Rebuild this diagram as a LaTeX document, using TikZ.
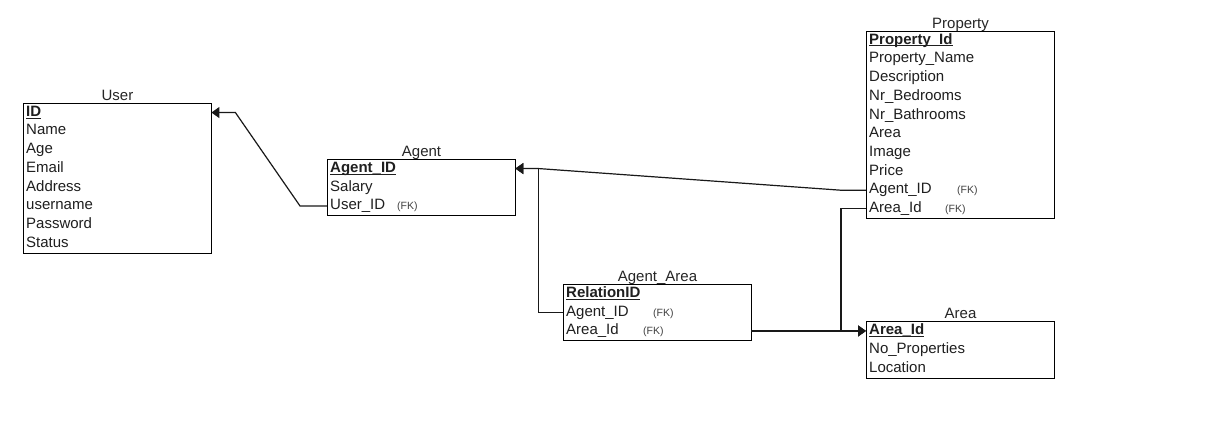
\documentclass[tikz,border=0pt]{standalone}
\usepackage{fontspec}
\setmainfont{Liberation Sans}
\usetikzlibrary{arrows.meta}
\newcommand\pkey[1]{\setbox0\hbox{\bfseries #1}\rlap{\rule[-2.2pt]{\wd0}{1pt}}\box0}
\newcommand\fkat[2]{\makebox[#1][l]{#2}{\fontsize{10.5}{12}\selectfont\color{black!75}(FK)}}
\begin{document}
\begin{tikzpicture}[x=1pt,y=-1pt,
  tbl/.style={draw=black, line width=1pt, anchor=north west, inner sep=0pt, minimum width=188pt},
  rowcell/.style={anchor=north west, inner xsep=3pt, inner ysep=0pt, text width=182pt, align=left,
    minimum height=18.7pt, text height=11pt, text depth=3.5pt, font=\fontsize{15}{18}\selectfont, text=black!88},
  ttl/.style={anchor=base, inner sep=0pt, font=\fontsize{15}{18}\selectfont, text=black!85},
  fk/.style={draw=black!90, line width=1.2pt, -{Triangle[length=8pt,width=11pt]}}]
\useasboundingbox (0,0) rectangle (1222,441);
\fill[white] (0,0) rectangle (1222,441);

% User
\node[tbl, minimum height=149.6pt] (user) at (23,103) {};
\node[ttl] (usert) at ([yshift=2.5pt]user.north) {User};
\node[rowcell] (u1) at (23,103) {\pkey{ID}};
\node[rowcell] (u2) at (23,121.7) {Name};
\node[rowcell] (u3) at (23,140.4) {Age};
\node[rowcell] (u4) at (23,159.1) {Email};
\node[rowcell] (u5) at (23,177.8) {Address};
\node[rowcell] (u6) at (23,196.5) {username};
\node[rowcell] (u7) at (23,215.2) {Password};
\node[rowcell] (u8) at (23,233.9) {Status};

% Agent
\node[tbl, minimum height=56.1pt] (agent) at (327,159) {};
\node[ttl] (agentt) at ([yshift=2.5pt]agent.north) {Agent};
\node[rowcell] (ag1) at (327,159) {\pkey{Agent\_ID}};
\node[rowcell] (ag2) at (327,177.7) {Salary};
\node[rowcell] (ag3) at (327,196.4) {\fkat{67pt}{User\_ID}};

% Property
\node[tbl, minimum height=187pt] (prop) at (866,31) {};
\node[ttl] (propt) at ([yshift=2.5pt]prop.north) {Property};
\node[rowcell] (p1) at (866,31) {\pkey{Property\_Id}};
\node[rowcell] (p2) at (866,49.7) {Property\_Name};
\node[rowcell] (p3) at (866,68.4) {Description};
\node[rowcell] (p4) at (866,87.1) {Nr\_Bedrooms};
\node[rowcell] (p5) at (866,105.8) {Nr\_Bathrooms};
\node[rowcell] (p6) at (866,124.5) {Area};
\node[rowcell] (p7) at (866,143.2) {Image};
\node[rowcell] (p8) at (866,161.9) {Price};
\node[rowcell] (p9) at (866,180.6) {\fkat{88pt}{Agent\_ID}};
\node[rowcell] (p10) at (866,199.3) {\fkat{76pt}{Area\_Id}};

% Agent_Area
\node[tbl, minimum height=56.1pt] (aa) at (563,284) {};
\node[ttl] (aat) at ([yshift=2.5pt]aa.north) {Agent\_Area};
\node[rowcell] (aa1) at (563,284) {\pkey{RelationID}};
\node[rowcell] (aa2) at (563,302.7) {\fkat{87pt}{Agent\_ID}};
\node[rowcell] (aa3) at (563,321.4) {\fkat{77pt}{Area\_Id}};

% Area
\node[tbl, minimum height=56.1pt] (area) at (866,321.4) {};
\node[ttl] (areat) at ([yshift=2.5pt]area.north) {Area};
\node[rowcell] (ar1) at (866,321.4) {\pkey{Area\_Id}};
\node[rowcell] (ar2) at (866,340.1) {No\_Properties};
\node[rowcell] (ar3) at (866,358.8) {Location};

% connectors
\draw[fk] (ag3.west) -- ++(-27,0) -- ([xshift=24pt]u1.east) -- (u1.east);
\draw[fk] (p9.west) -- ++(-26,0) -- ([xshift=23pt]ag1.east) -- (ag1.east);
\draw[fk] (aa2.west) -| ([xshift=23pt]ag1.east) -- (ag1.east);
\draw[fk] (aa3.east) -- (ar1.west);
\draw[fk] (p10.west) -- ++(-25,0) |- (ar1.west);
\end{tikzpicture}
\end{document}
